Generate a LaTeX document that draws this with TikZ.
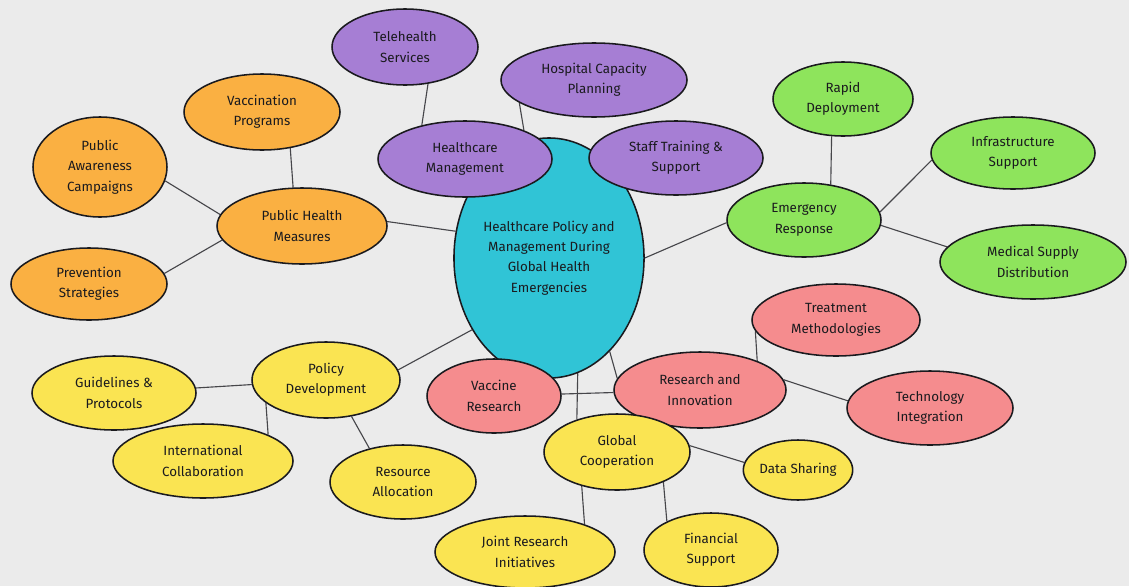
\documentclass[tikz,border=0pt]{standalone}
\usepackage{fontspec}
\setmainfont{Fira Sans}
\usetikzlibrary{shapes.geometric}
\definecolor{paper}{RGB}{235,235,235}
\definecolor{inkline}{RGB}{26,26,30}
\definecolor{linkgray}{RGB}{70,70,74}
\definecolor{hubcyan}{RGB}{48,196,214}
\definecolor{mgmtviolet}{RGB}{166,126,212}
\definecolor{emergreen}{RGB}{142,228,92}
\definecolor{healthorange}{RGB}{250,176,66}
\definecolor{researchpink}{RGB}{245,140,142}
\definecolor{policyyellow}{RGB}{250,228,82}
\pgfdeclarelayer{edges}
\pgfsetlayers{edges,main}
\begin{document}
\begin{tikzpicture}
[x=0.025cm, y=-0.025cm,
  bubble/.style={shape=ellipse,draw=inkline,line width=1.1pt,inner sep=0pt,%
    align=center,text=inkline,font=\fontsize{9.5}{14.5}\selectfont},
  linkline/.style={-,draw=linkgray,line width=0.8pt}]
\useasboundingbox (0,0) rectangle (1129,586);
%% central topic
\node (hc) at (549,258) [bubble,fill=hubcyan,minimum width=4.75cm,minimum height=6cm]
  {Healthcare Policy and\\Management During\\Global Health\\Emergencies};
%% branches, one loop per colour
\foreach \nodename/\x/\y/\w/\h/\nodetext in {tel/405/47/146/76/{Telehealth\\Services},
  hcp/594/80/186/74/{Hospital Capacity\\Planning},
  hm/465/159/174/76/{Healthcare\\Management},
  stf/676/158/174/74/{Staff Training \&\\Support}} {
  \node (\nodename) at (\x,\y) [bubble,fill=mgmtviolet,
    minimum width=\w*0.025cm,minimum height=\h*0.025cm] {\nodetext};
}
\foreach \nodename/\x/\y/\w/\h/\nodetext in {rd/843/99/140/74/{Rapid\\Deployment},
  inf/1013/153/164/72/{Infrastructure\\Support},
  er/804/220/154/74/{Emergency\\Response},
  msd/1033/262/186/74/{Medical Supply\\Distribution}} {
  \node (\nodename) at (\x,\y) [bubble,fill=emergreen,
    minimum width=\w*0.025cm,minimum height=\h*0.025cm] {\nodetext};
}
\foreach \nodename/\x/\y/\w/\h/\nodetext in {vp/262/112/156/76/{Vaccination\\Programs},
  pac/100/167/134/100/{Public\\Awareness\\Campaigns},
  phm/302/226/170/76/{Public Health\\Measures},
  ps/89/284/156/72/{Prevention\\Strategies}} {
  \node (\nodename) at (\x,\y) [bubble,fill=healthorange,
    minimum width=\w*0.025cm,minimum height=\h*0.025cm] {\nodetext};
}
\foreach \nodename/\x/\y/\w/\h/\nodetext in {tm/836/320/168/72/{Treatment\\Methodologies},
  vr/494/396/134/74/{Vaccine\\Research},
  ri/700/390/172/76/{Research and\\Innovation},
  ti/930/408/166/74/{Technology\\Integration}} {
  \node (\nodename) at (\x,\y) [bubble,fill=researchpink,
    minimum width=\w*0.025cm,minimum height=\h*0.025cm] {\nodetext};
}
\foreach \nodename/\x/\y/\w/\h/\nodetext in {gp/114/393/164/74/{Guidelines \&\\Protocols},
  ic/203/461/180/74/{International\\Collaboration},
  pd/326/380/148/76/{Policy\\Development},
  ra/403/482/146/74/{Resource\\Allocation},
  gc/617/452/146/76/{Global\\Cooperation},
  ds/798/470/106/60/{Data Sharing},
  jri/525/552/180/72/{Joint Research\\Initiatives},
  fs/711/550/134/74/{Financial\\Support}} {
  \node (\nodename) at (\x,\y) [bubble,fill=policyyellow,
    minimum width=\w*0.025cm,minimum height=\h*0.025cm] {\nodetext};
}
%% paper and links, under the bubbles
\begin{pgfonlayer}{edges}
\fill[paper] (0,0) rectangle (1129,586);
\path
\foreach \startnode/\endnode in {hc/hm, hm/stf, tel.-58/hm.142, hcp.197/hm.26,
  phm.3/hc.164, vp.-52/phm.103, pac.-12/phm.172, ps.8/phm.190,
  hc.0/er.182, rd.-107/er.53, er.6/inf.185, er.-4/msd.170,
  pd.8/hc.223, pd/gp, pd.201/ic.22, pd.-55/ra.135,
  hc.-57/ri.172, vr/ri, tm.188/ri.27, ri.7/ti.175,
  hc.-76/gc.141, gc.5/ds.172, gc.224/jri.25, gc.-33/fs.147} {
  (\startnode) edge[linkline] (\endnode)
};
\end{pgfonlayer}
\end{tikzpicture}
\end{document}
